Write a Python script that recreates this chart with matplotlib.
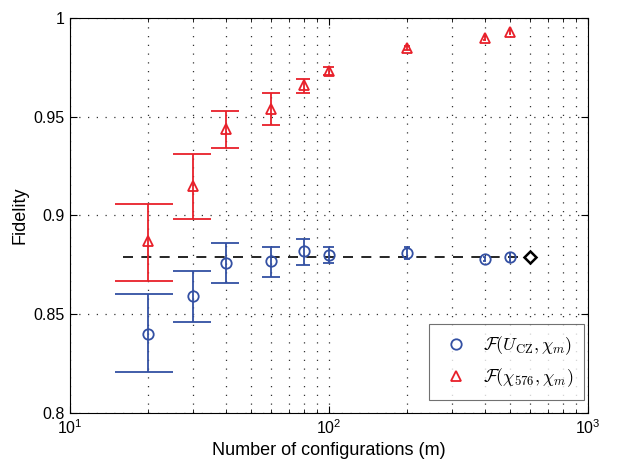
import numpy as np
import matplotlib.pyplot as plt

plt.rcParams['mathtext.fontset'] = 'cm'
plt.rcParams['font.family'] = ['Liberation Sans', 'DejaVu Sans']

# number of configurations
m = np.array([20, 30, 40, 60, 80, 100, 200, 400, 500])

# F(U_CZ, chi_m)
f_cz = np.array([0.840, 0.859, 0.876, 0.877, 0.882, 0.880, 0.881, 0.878, 0.879])
f_cz_lo = np.array([0.821, 0.846, 0.866, 0.869, 0.875, 0.876, 0.878, 0.877, 0.877])
f_cz_hi = np.array([0.860, 0.872, 0.886, 0.884, 0.888, 0.884, 0.884, 0.879, 0.881])

# F(chi_576, chi_m)
f_576 = np.array([0.887, 0.915, 0.944, 0.954, 0.966, 0.973, 0.985, 0.990, 0.993])
f_576_lo = np.array([0.867, 0.898, 0.934, 0.946, 0.962, 0.971, 0.984, 0.989, 0.992])
f_576_hi = np.array([0.906, 0.931, 0.953, 0.962, 0.969, 0.975, 0.986, 0.991, 0.994])

# reference value (full set)
m_ref = 600
f_ref = 0.879
line_span = [16, 600]
cap_half = 5  # caps are +-5 configurations wide

blue = '#3350a3'
red = '#e8202a'

fig = plt.figure(figsize=(6.18, 4.72), dpi=100)
ax = fig.add_axes([0.113, 0.125, 0.838, 0.837])

ax.plot(line_span, [f_ref, f_ref], 'k--', lw=1.2, dashes=(6, 5), zorder=2)

for f, lo, hi, col in [(f_cz, f_cz_lo, f_cz_hi, blue), (f_576, f_576_lo, f_576_hi, red)]:
    ax.vlines(m, lo, hi, color=col, lw=1.3, zorder=3)
    ax.hlines(lo, m - cap_half, m + cap_half, color=col, lw=1.3, zorder=3)
    ax.hlines(hi, m - cap_half, m + cap_half, color=col, lw=1.3, zorder=3)

ax.plot(m, f_cz, 'o', mfc='none', mec=blue, mew=1.3, ms=7.5, zorder=4,
        label=r'$\mathcal{F}(U_{\mathrm{CZ}},\chi_m)$')
ax.plot(m, f_576, '^', mfc='none', mec=red, mew=1.3, ms=7.5, zorder=4,
        label=r'$\mathcal{F}(\chi_{576},\chi_m)$')
ax.plot([m_ref], [f_ref], 'D', mfc='white', mec='k', mew=1.8, ms=6, zorder=5)

ax.set_xscale('log')
ax.set_xlim(10, 1000)
ax.set_ylim(0.8, 1.0)
ax.set_yticks([0.8, 0.85, 0.9, 0.95, 1.0])
ax.set_yticklabels(['0.8', '0.85', '0.9', '0.95', '1'])
ax.grid(True, which='major', ls=(0, (1, 6)), color='0.2', lw=0.9)
ax.grid(True, which='minor', axis='x', ls=(0, (1, 6)), color='0.2', lw=0.9)
ax.tick_params(which='both', direction='in', top=True, right=True, labelsize=11.5)
ax.tick_params(which='major', length=5)
ax.tick_params(which='minor', length=3)
ax.tick_params(axis='y', which='minor', left=False, right=False)

ax.set_xlabel('Number of configurations (m)', fontsize=13)
ax.set_ylabel('Fidelity', fontsize=13)

leg = ax.legend(loc='lower right', fontsize=13, fancybox=False, edgecolor='0.3',
                borderpad=0.6, labelspacing=0.5, handletextpad=0.6,
                handlelength=1.8, borderaxespad=0, bbox_to_anchor=(0.993, 0.033))
leg.get_frame().set_linewidth(0.8)

fig.savefig('out.png', dpi=100)
